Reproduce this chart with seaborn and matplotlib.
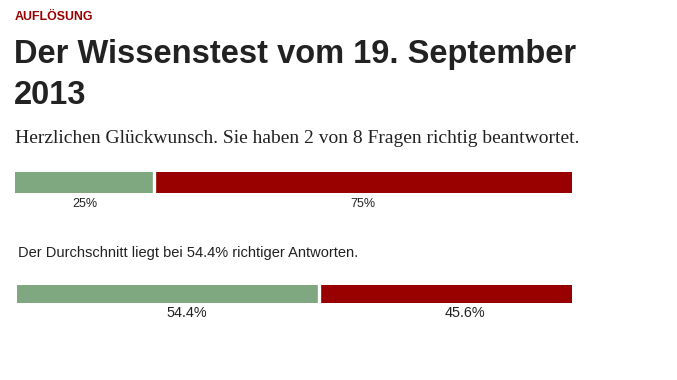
import matplotlib
matplotlib.use("Agg")
import matplotlib.pyplot as plt
import matplotlib.transforms as mtransforms
import seaborn as sns
import pandas as pd

# ---- data ----
categories = ["richtig", "falsch"]
user_values = [25, 75]
avg_values = [54.4, 45.6]
user_labels = ["25%", "75%"]
avg_labels = ["54.4%", "45.6%"]
colors = ["#80a880", "#990000"]

sns.set_theme(style="white")
plt.rcParams["font.family"] = ["Liberation Sans", "DejaVu Sans"]

W, H = 677, 380
fig = plt.figure(figsize=(W / 100, H / 100), dpi=100)
fig.patch.set_facecolor("white")

def fx(px):
    return px / W

def fy(py):
    return 1 - py / H

# ---- texts ----
fig.text(fx(15), fy(20), "AUFLÖSUNG", fontsize=8.9, fontweight="bold",
         color="#990000", va="baseline", ha="left")
fig.text(fx(14), fy(63), "Der Wissenstest vom 19. September", fontsize=23.5,
         fontweight="bold", color="#222222", va="baseline", ha="left")
fig.text(fx(14), fy(104), "2013", fontsize=23.5,
         fontweight="bold", color="#222222", va="baseline", ha="left")
fig.text(fx(15), fy(143), "Herzlichen Glückwunsch. Sie haben 2 von 8 Fragen richtig beantwortet.",
         fontsize=14.0, color="#222222", va="baseline", ha="left",
         family=["Liberation Serif", "DejaVu Serif"])
fig.text(fx(18), fy(257.3), "Der Durchschnitt liegt bei 54.4% richtiger Antworten.",
         fontsize=10.5, color="#222222", va="baseline", ha="left")


def stacked(ax, values, labels, label_size, label_y, label_dx=0):
    df = pd.DataFrame({"cat": categories, "val": values})
    df["left"] = df["val"].cumsum() - df["val"]
    df["end"] = df["val"].cumsum()
    # draw cumulative bars back to front with seaborn
    for i in reversed(range(len(df))):
        sns.barplot(x=[df["end"][i]], y=[0], orient="h", color=colors[i],
                    width=1.0, ax=ax, saturation=1, linewidth=0)
    for i in range(len(df) - 1):
        ax.axvline(df["end"][i], color="white", lw=2.4)
    ax.set_xlim(0, 100)
    ax.set_ylim(0.5, -0.5)
    ax.axis("off")
    trans = mtransforms.offset_copy(ax.transData, fig=fig, x=label_dx, y=0,
                                    units="dots")
    for i in range(len(df)):
        ax.text(df["left"][i] + df["val"][i] / 2, label_y, labels[i],
                ha="center", va="baseline", fontsize=label_size, color="#222222",
                clip_on=False, transform=trans)


ax1 = fig.add_axes([fx(15), fy(193), fx(572) - fx(15), (193 - 172) / H])
stacked(ax1, user_values, user_labels, 9, 1.17)

ax2 = fig.add_axes([fx(17), fy(303), fx(572) - fx(17), (303 - 285) / H])
stacked(ax2, avg_values, avg_labels, 10.4, 1.29, label_dx=19)

fig.savefig("out.png", dpi=100, facecolor="white")
